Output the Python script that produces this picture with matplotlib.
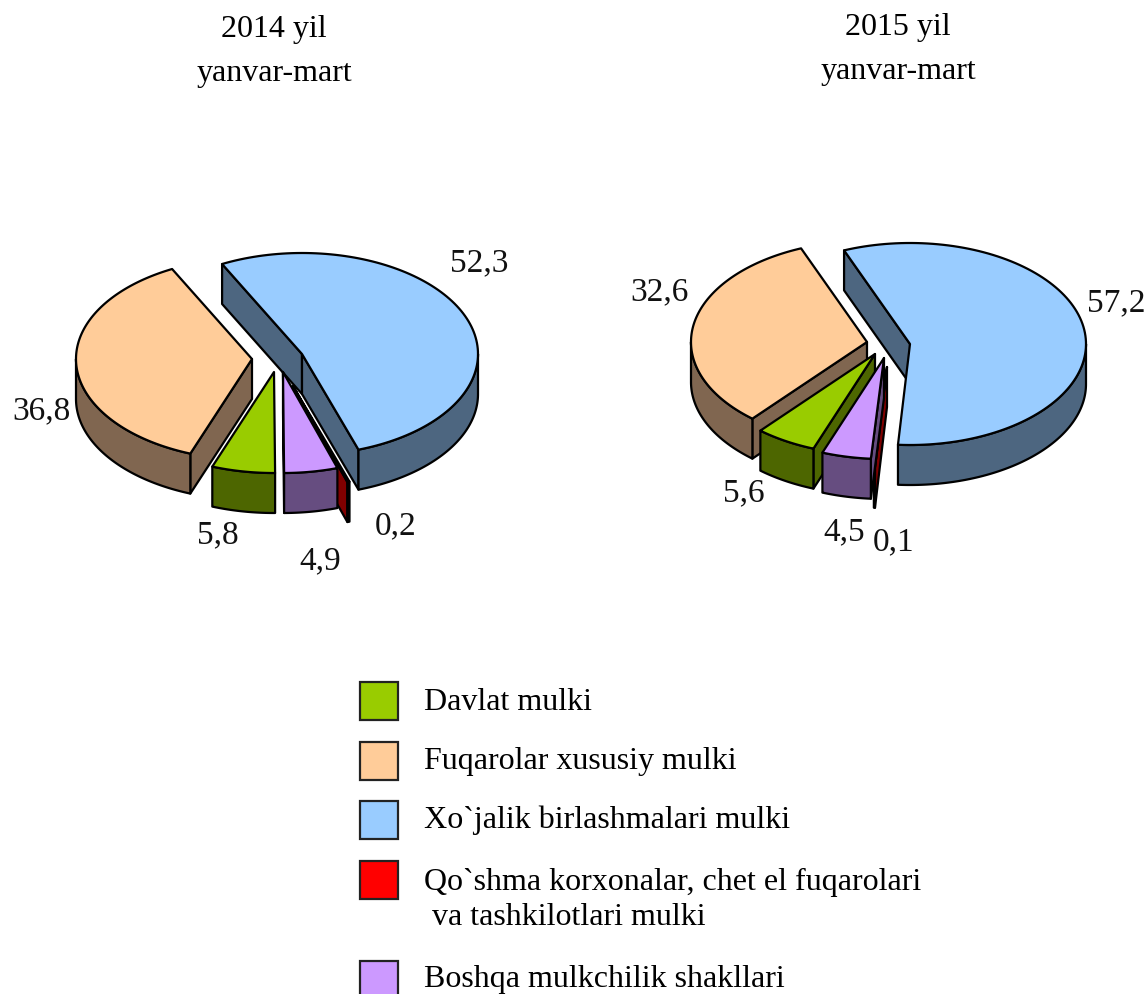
import matplotlib
matplotlib.use('Agg')
import matplotlib.pyplot as plt
import matplotlib.patches as mpatches
import numpy as np

plt.rcParams['font.family'] = ['Liberation Serif', 'DejaVu Serif']

# legend order
categories = ['Davlat mulki', 'Fuqarolar xususiy mulki', 'Xo`jalik birlashmalari mulki',
              'Qo`shma korxonalar, chet el fuqarolari\n va tashkilotlari mulki',
              'Boshqa mulkchilik shakllari']
values_2014 = [5.8, 36.8, 52.3, 0.2, 4.9]
values_2015 = [5.6, 32.6, 57.2, 0.1, 4.5]
labels_2014 = ['5,8', '36,8', '52,3', '0,2', '4,9']
labels_2015 = ['5,6', '32,6', '57,2', '0,1', '4,5']

colors = ['#99CC00', '#FFCC99', '#99CCFF', '#FF0000', '#CC99FF']
wall_colors = ['#4D6600', '#806650', '#4D6680', '#800000', '#664D80']

# layout, all in image pixels
rx, ry, depth = 176, 101, 40
clock_order = [2, 3, 4, 0, 1]   # slices clockwise from the blue one
paint_order = [2, 1, 0, 3, 4]
apex_2014 = [(274, 373), (252, 360), (302, 355), (293, 387), (283, 373)]
apex_2015 = [(875, 355), (867, 343), (910, 345), (887, 368), (884, 359)]
label_pos_2014 = [(218, 535), (41, 411), (479, 263), (396, 526), (320, 561)]
label_pos_2015 = [(744, 493), (660, 292), (1116, 303), (894, 542), (844, 532)]
legend_y = [702, 761, 820, 900, 980]
text_size = 23
label_size = 24


def arc(apex, t1, t2):
    t = np.radians(np.linspace(t1, t2, 120))
    return np.column_stack([apex[0] + rx * np.cos(t), apex[1] - ry * np.sin(t)])


def draw_pie(ax, values, apexes, start):
    #angles go clockwise starting from the blue slice
    spans = {}
    t = start
    for i in clock_order:
        spans[i] = (t, t - values[i] * 3.6)
        t = spans[i][1]

    down = np.array([0, depth])
    style = dict(edgecolor='black', linewidth=1.6, joinstyle='round')
    for i in paint_order:
        t1, t2 = spans[i]
        apex = np.array(apexes[i], dtype=float)
        rim = arc(apex, t1, t2)

        # a cut face only shows if its normal points towards the viewer
        if np.sin(np.radians(t1 + 90)) < 0:
            ax.add_patch(mpatches.Polygon([apex, rim[0], rim[0] + down, apex + down],
                                          facecolor=wall_colors[i], **style))
        if np.sin(np.radians(t2 - 90)) < 0:
            ax.add_patch(mpatches.Polygon([apex, rim[-1], rim[-1] + down, apex + down],
                                          facecolor=wall_colors[i], **style))

        # curved side, front half only
        front = []
        for k in range(-1, 2):
            lo, hi = max(t2, -180 + 360 * k), min(t1, 360 * k)
            if hi > lo:
                front.append(arc(apex, hi, lo))
        for part in front:
            ax.add_patch(mpatches.Polygon(np.vstack([part, (part + down)[::-1]]),
                                          facecolor=wall_colors[i], **style))

        ax.add_patch(mpatches.Polygon(np.vstack([apex, rim]), facecolor=colors[i], **style))


fig = plt.figure(figsize=(11.46, 9.95), dpi=100)
ax = fig.add_axes([0, 0, 1, 1])
ax.set_xlim(0, 1146)
ax.set_ylim(995, 0)
ax.axis('off')

draw_pie(ax, values_2014, apex_2014, 117)
draw_pie(ax, values_2015, apex_2015, 112)

for labels, positions in ((labels_2014, label_pos_2014), (labels_2015, label_pos_2015)):
    for label, (x, y) in zip(labels, positions):
        ax.text(x, y, label, fontsize=label_size, ha='center', va='center', color='#111111')

ax.text(274, 30, '2014 yil', fontsize=text_size, ha='center', va='center')
ax.text(274, 74, 'yanvar-mart', fontsize=text_size, ha='center', va='center')
ax.text(898, 27, '2015 yil', fontsize=text_size, ha='center', va='center')
ax.text(898, 72, 'yanvar-mart', fontsize=text_size, ha='center', va='center')

##legend
box_y = [683, 743, 802, 862, 962]
for name, color, by, ty in zip(categories, colors, box_y, legend_y):
    ax.add_patch(mpatches.Rectangle((360, by), 38, 38, facecolor=color, edgecolor='#222222', linewidth=1.6))
    ax.text(424, ty, name, fontsize=text_size, ha='left', va='center', linespacing=1.3)

fig.savefig('out.png', dpi=100)
